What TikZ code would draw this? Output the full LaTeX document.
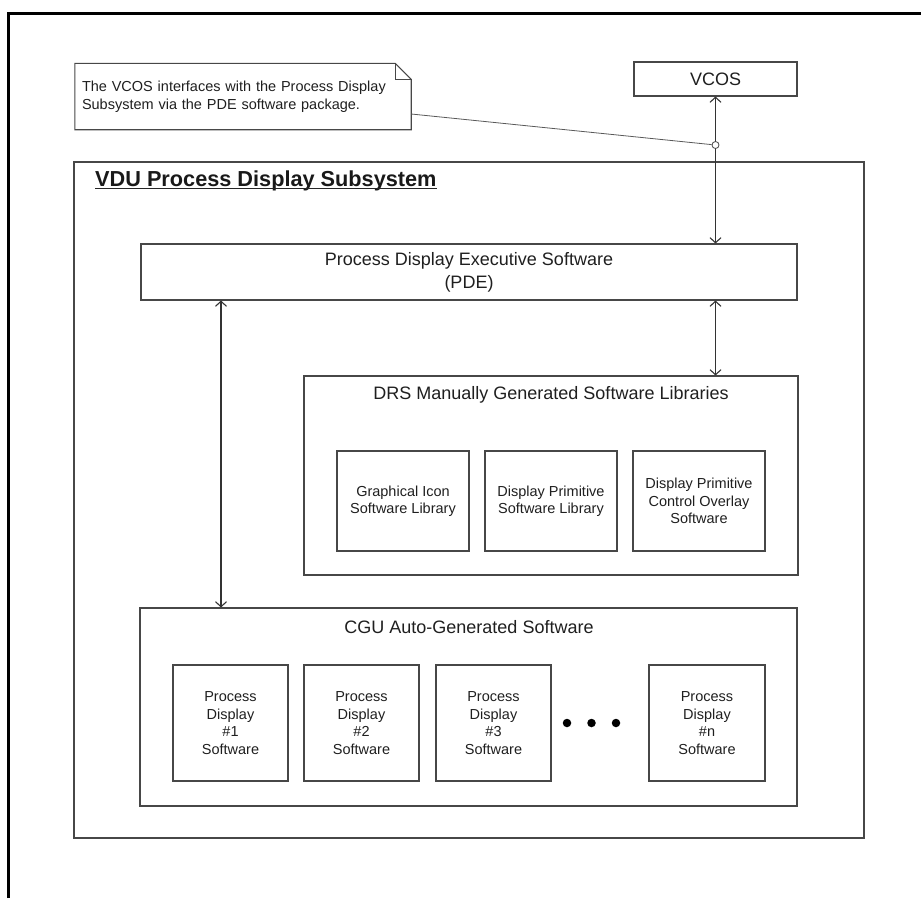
\documentclass[tikz,border=0pt]{standalone}
\usepackage{fontspec}
\setmainfont{Liberation Sans}
\usetikzlibrary{arrows.meta}
\tikzset{
  ln/.style={draw=black!72, line width=1.1pt},
  boxn/.style={ln, rectangle, inner sep=0pt, align=center, text=black!88},
  arr/.style={draw=black!80, line width=1.1pt, {Straight Barb[length=5pt,width=11pt]}-{Straight Barb[length=5pt,width=11pt]}},
  big/.style={font=\fontsize{18}{23}\selectfont, text=black!88},
  small/.style={font=\fontsize{14.5}{17.5}\selectfont},
}
\begin{document}
\begin{tikzpicture}[x=1pt,y=-1pt]
\useasboundingbox (0,0) rectangle (921,898);
% outer frame (top and left)
\coordinate (ftl) at (8,13);
\coordinate (ftr) at (921,13);
\coordinate (fbl) at (8,898);
\draw[black, line width=3pt] (fbl) -- (ftl) -- (ftr);

% note
\node[inner sep=7pt, text width=322pt, minimum height=66pt, align=left,
      font=\fontsize{14.5}{18}\selectfont, text=black!88] (note) at (243,96.5)
  {The VCOS interfaces with the Process Display\\Subsystem via the PDE software package.};
\draw[ln] (note.north west) -- ([xshift=-16pt]note.north east) -- ([yshift=-16pt]note.north east)
  -- (note.south east) -- (note.south west) -- cycle;
\draw[ln, line width=0.8pt] ([xshift=-16pt]note.north east) -- ([xshift=-16pt,yshift=-16pt]note.north east)
  -- ([yshift=-16pt]note.north east);

% VCOS
\node[boxn, big, minimum width=163pt, minimum height=34pt] (vcos) at (715.5,79) {VCOS};

% subsystem
\node[boxn, minimum width=790pt, minimum height=676pt] (sub) at (469,500) {};
\node[anchor=base west, inner sep=0pt, font=\fontsize{21.7}{26}\selectfont\bfseries, text=black!90] (title) at (95,186) {VDU Process Display Subsystem};
\draw[black!85, line width=1.5pt] ([yshift=-2.5pt]title.base west) -- ([yshift=-2.5pt]title.base east);

% PDE
\node[boxn, big, minimum width=656pt, minimum height=56pt] (pde) at (469,272)
  {Process Display Executive Software\\(PDE)};

% DRS
\node[boxn, minimum width=494pt, minimum height=199pt] (drs) at (551,475.5) {};
\node[big, inner sep=0pt] (drst) at (551,395) {DRS Manually Generated Software Libraries};
\node[boxn, small, minimum width=132pt, minimum height=100pt] (lib1) at (403,501) {Graphical Icon\\Software Library};
\node[boxn, small, minimum width=132pt, minimum height=100pt] (lib2) at (551,501) {Display Primitive\\Software Library};
\node[boxn, small, minimum width=132pt, minimum height=100pt] (lib3) at (699,501) {Display Primitive\\Control Overlay\\Software};

% CGU
\node[boxn, minimum width=657pt, minimum height=198pt] (cgu) at (468.5,707) {};
\node[big, inner sep=0pt] (cgut) at (469,627) {CGU Auto-Generated Software};
\node[boxn, small, minimum width=115pt, minimum height=116pt] (p1) at (230.5,723) {Process\\Display\\\#1\\Software};
\node[boxn, small, minimum width=115pt, minimum height=116pt] (p2) at (361.5,723) {Process\\Display\\\#2\\Software};
\node[boxn, small, minimum width=115pt, minimum height=116pt] (p3) at (493.5,723) {Process\\Display\\\#3\\Software};
\node[boxn, small, minimum width=116pt, minimum height=116pt] (pn) at (707,723) {Process\\Display\\\#n\\Software};
\foreach \dx/\nm in {567/d1,591.5/d2,616/d3}
  \node[circle, fill=black, inner sep=0pt, minimum size=8.5pt] (\nm) at (\dx,723) {};

% connectors
\coordinate (lx) at (221,0);
\draw[arr] (vcos.south) -- (pde.north -| vcos.south);
\draw[arr] (pde.south -| vcos.south) -- (drs.north -| vcos.south);
\draw[arr] (pde.south -| lx) -- (cgu.north -| lx);

% note connector with pin
\coordinate (ny) at (0,114);
\node[circle, draw=black!72, line width=0.8pt, fill=white, inner sep=0pt, minimum size=7pt] (pin) at (715.5,145) {};
\draw[black!65, line width=0.8pt] (note.east |- ny) -- (pin);
\end{tikzpicture}
\end{document}
